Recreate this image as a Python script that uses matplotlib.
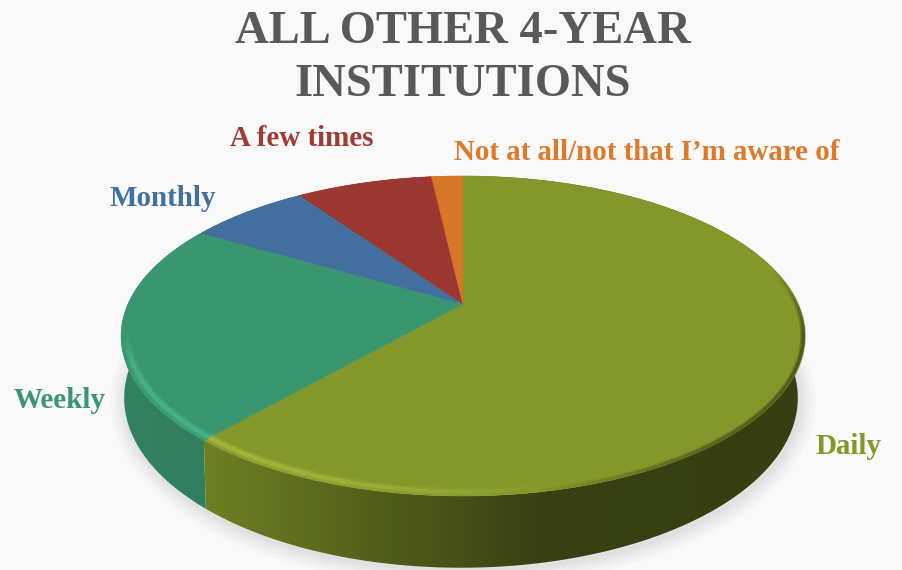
import numpy as np
import matplotlib
matplotlib.use("Agg")
import matplotlib.pyplot as plt
from matplotlib.collections import LineCollection
from matplotlib.colors import to_rgb
from matplotlib.patches import Polygon

labels = ["Daily", "Weekly", "Monthly", "A few times", "Not at all/not that I\u2019m aware of"]
values = [61.4, 22.1, 6.9, 7.8, 1.8]
colors = ["#83972a", "#3a966f", "#426f9e", "#9c3832", "#d87627"]
text_colors = ["#84982a", "#3a966f", "#41719f", "#a03a35", "#dd7a2b"]
label_pos = [(848, 446), (60, 401), (163, 198), (302, 138), (647, 152)]

plt.rcParams["font.family"] = ["Liberation Serif", "DejaVu Serif"]

fig = plt.figure(figsize=(9.02, 5.70), dpi=100, facecolor="#f9f9f9")
ax = fig.add_axes([0, 0, 1, 1])
ax.set_facecolor("#f9f9f9")
ax.axis("off")


# the pie is a tilted disc, so the centre sits above the middle of the ellipse
def top_pt(theta, r=1.0):
    u, v = r * np.sin(theta), r * np.cos(theta)
    w = 1 + 0.2 * v
    return 463 + 335 * u / w, 304 - 153.6 * v / w


def bottom_pt(theta):
    u, v = np.sin(theta), np.cos(theta)
    w = 1 + 0.2 * v
    return 461 + 330 * u / w, 364 - 163 * v / w


def side_shade(x):
    return np.interp(x, [121, 210, 400, 540, 805], [0.86, 0.84, 0.6, 0.43, 0.42])


edges = np.cumsum([0] + values) / sum(values) * 2 * np.pi

# soft shadow under the disc
tt = np.linspace(0, 2 * np.pi, 360)
bx, by = bottom_pt(tt)
for lw in [22, 16, 11, 7, 3]:
    ax.add_patch(Polygon(np.c_[bx + 2, by + 3], closed=True, fc="none", ec="black",
                         lw=lw, alpha=0.018, zorder=1))

# side wall, shaded left to right
xs = np.linspace(121, 805, 300)
for i in range(len(values)):
    tt = np.linspace(edges[i], edges[i + 1], 200)
    tx, ty = top_pt(tt)
    bx, by = bottom_pt(tt[::-1])
    wall = Polygon(np.c_[np.r_[tx, bx], np.r_[ty, by]], closed=True, transform=ax.transData)
    grad = np.outer(side_shade(xs), to_rgb(colors[i]))[np.newaxis, :, :]
    im = ax.imshow(grad, extent=(121, 805, 570, 0), aspect="auto", zorder=2,
                   interpolation="bilinear")
    im.set_clip_path(wall)

# top surface
for i in range(len(values)):
    tt = np.linspace(edges[i], edges[i + 1], 200)
    tx, ty = top_pt(tt)
    ax.add_patch(Polygon(np.c_[np.r_[463, tx], np.r_[304, ty]], closed=True, fc=colors[i],
                         ec=colors[i], lw=0.4, zorder=3))


def rim(theta, rgb, alpha, r, widths):
    tx, ty = top_pt(theta, r)
    pts = np.c_[tx, ty].reshape(-1, 1, 2)
    segs = np.concatenate([pts[:-1], pts[1:]], axis=1)
    a = alpha(tx[:-1], ty[:-1])
    rgba = np.c_[np.tile(rgb, (len(a), 1)), a]
    for lw, k in widths:
        col = rgba.copy()
        col[:, 3] *= k
        ax.add_collection(LineCollection(segs, colors=col, linewidths=lw, zorder=4,
                                         capstyle="butt"))


soft = [(6, 0.35), (3, 0.7)]
# light bevel on the left of the front rim
rim(np.linspace(edges[1], np.pi * 0.6, 200), to_rgb("#a8bd3e"),
    lambda x, y: np.interp(x, [203, 300, 430, 560], [1.0, 0.9, 0.5, 0.0]), 0.982, soft)
rim(np.linspace(edges[1], edges[2], 200), to_rgb("#48b88e"),
    lambda x, y: np.interp(y, [335, 365, 437], [0.0, 1.0, 1.0]), 0.982, soft)
# dark soft edge on the right, fades out towards the back and the front
rim(np.linspace(np.pi * 0.3, np.pi, 300), to_rgb("#39400f"),
    lambda x, y: np.interp(x, [540, 700, 805], [0.0, 0.5, 0.7]) * np.interp(y, [270, 335], [0.0, 1.0]),
    0.995, [(4, 0.5), (2, 0.8)])

ax.text(463, 32, "ALL OTHER 4-YEAR", ha="center", va="center", fontsize=33.6,
        fontweight="bold", color="#595959", zorder=5)
ax.text(463, 85, "INSTITUTIONS", ha="center", va="center", fontsize=33.6,
        fontweight="bold", color="#595959", zorder=5)

for name, col, (x, y) in zip(labels, text_colors, label_pos):
    ax.text(x, y, name, ha="center", va="center", fontsize=20.9, fontweight="bold",
            color=col, zorder=5)

ax.set_xlim(0, 902)
ax.set_ylim(570, 0)

fig.savefig("out.png", dpi=100, facecolor=fig.get_facecolor())
